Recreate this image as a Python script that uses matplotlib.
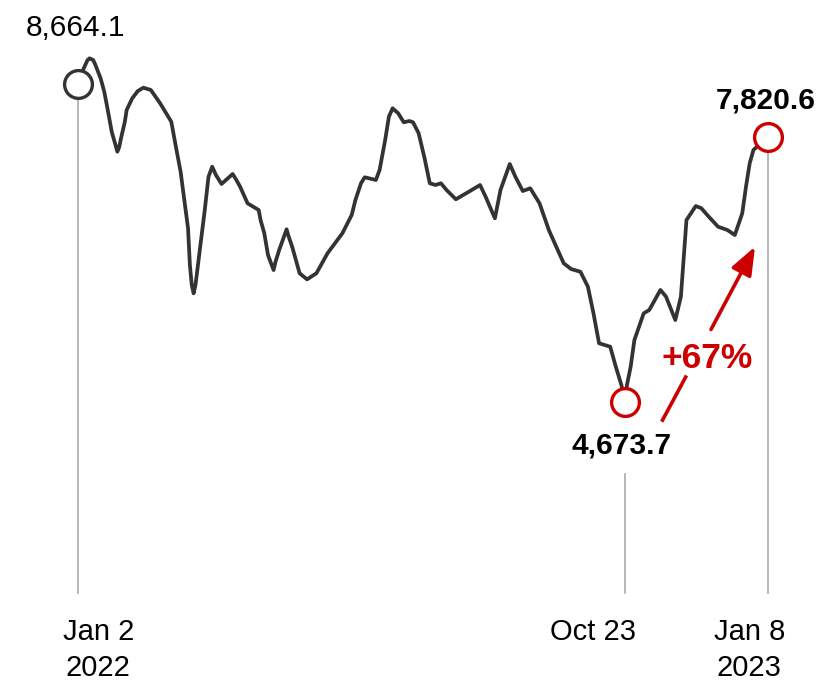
import numpy as np
import matplotlib
matplotlib.use("Agg")
import matplotlib.pyplot as plt
import matplotlib.dates as mdates

plt.rcParams['font.family'] = ['Liberation Sans', 'DejaVu Sans']

# days since Jan 2 2022, and index level
days = [0, 3, 5, 6, 8, 9, 12, 14, 16, 18, 20, 21, 22, 23, 25, 26, 29, 32, 35, 39, 44, 50, 52, 55,
        59, 60, 61, 62, 63, 64, 66, 68, 70, 72, 74, 77, 80, 83, 85, 87, 91, 97, 98, 100, 102, 105,
        106, 108, 112, 113, 115, 119, 123, 128, 134, 142, 147, 149, 152, 154, 160, 162, 165, 167, 169, 172,
        175, 178, 180, 183, 186, 189, 192, 195, 198, 203, 210, 216, 219, 224, 227, 232, 235, 239, 243, 248,
        253, 257, 261, 265, 270, 274, 277, 280, 286, 289, 292, 294, 295, 297, 299, 304, 307, 313, 316, 321,
        324, 327, 332, 335, 339, 344, 349, 353, 357, 359, 361, 363, 366, 371]
values = [8664.1, 8943, 9083, 9113, 9083, 9013, 8766, 8535, 8215, 7896, 7700, 7600, 7669, 7805, 8052, 8242, 8431, 8552, 8607, 8569, 8350, 8056, 7744, 7310,
          6548, 6096, 5865, 5770, 5865, 6037, 6401, 6785, 7239, 7381, 7263, 7137, 7207, 7277, 7193, 7100, 6874, 6785, 6654, 6485, 6216, 6037,
          6132, 6277, 6535, 6451, 6317, 5999, 5929, 5999, 6237, 6485, 6720, 6918, 7147, 7231, 7193, 7334, 7775, 8135, 8269, 8189,
          8047, 8067, 8047, 7876, 7526, 7147, 7123, 7147, 7054, 6928, 7031, 7123, 6963, 6676, 7054, 7420, 7239, 7040, 7078, 6874,
          6526, 6317, 6117, 6049, 6017, 5845, 5550, 5236, 5201, 5003, 4828, 4673.7, 4828, 5003, 5269, 5550, 5586, 5808, 5733, 5478,
          5733, 6654, 6838, 6808, 6697, 6568, 6526, 6463, 6742, 7100, 7430, 7625, 7700, 7820.6]

tick_labels = [("Jan 2", "2022"), ("Oct 23", ""), ("Jan 8", "2023")]

start = np.datetime64('2022-01-02')
dates = start + np.array(days).astype('timedelta64[D]')
xd = np.asarray(mdates.date2num(dates), dtype=float)
vals = np.array(values, dtype=float)

i_low = int(np.argmin(vals))
marks = [0, i_low, len(vals) - 1]

dark = '#333333'
red = '#cc0000'
grey = '#aaaaaa'

W, H = 823, 683
fig = plt.figure(figsize=(W / 100, H / 100), dpi=100)
ax = fig.add_axes([0, 0, 1, 1])
ax.set_yscale('log')
ax.axis('off')

# pixel scale: first date at x=78, last at x=768
k = 690 / 371
x0 = xd[0]
ax.set_xlim(x0 - 78.3 / k, x0 + (W - 78.3) / k)
s = 514.2
ax.set_ylim(vals[0] * np.exp(-(H - 84.3) / s), vals[0] * np.exp(84.3 / s))

ax.plot(xd, vals, color=dark, lw=2.7, solid_joinstyle='round',
        solid_capstyle='round', zorder=2)

# guide lines down to the date labels
xt = ax.get_xaxis_transform()
y_bot = 90 / H
for i in marks:
    if i == i_low:
        top = (H - 474) / H
    else:
        pt = ax.transData.transform(np.array([[xd[i], vals[i]]]))
        top = ax.transAxes.inverted().transform(pt)[0, 1]
    ax.plot([xd[i], xd[i]], [y_bot, top], transform=xt, color=grey, lw=1.2, zorder=1)

# circles on start, low and latest points
for i in marks:
    ec = dark if i == 0 else red
    ax.plot(xd[i], vals[i], 'o', ms=20, mfc='white', mec=ec, mew=2.4, zorder=4)

ax.annotate(f"{vals[0]:,.1f}", (xd[0], vals[0]), xytext=(-3, 48),
            textcoords='offset pixels', ha='center', va='baseline', fontsize=21.5, color='black')
ax.annotate(f"{vals[-1]:,.1f}", (xd[-1], vals[-1]), xytext=(-3, 28),
            textcoords='offset pixels', ha='center', va='baseline', fontsize=21.5,
            fontweight='bold', color='black')
ax.annotate(f"{vals[i_low]:,.1f}", (xd[i_low], vals[i_low]), xytext=(-4, -52),
            textcoords='offset pixels', ha='center', va='baseline', fontsize=21.5,
            fontweight='bold', color='black')

# rise from the low
pct = round((vals[-1] / vals[i_low] - 1) * 100)
ax.text(707 / W, 1 - 368 / H, f"+{pct}%", transform=ax.transAxes, ha='center',
        va='baseline', fontsize=25.5, fontweight='bold', color=red)
ax.plot([661.7 / W, 686.5 / W], [1 - 421.7 / H, 1 - 375.5 / H], transform=ax.transAxes,
        color=red, lw=2.6, solid_capstyle='butt')
ax.annotate('', xy=(755 / W, 1 - 246.7 / H), xytext=(711 / W, 1 - 329.5 / H),
            xycoords='axes fraction', textcoords='axes fraction',
            arrowprops=dict(arrowstyle='-|>,head_length=0.85,head_width=0.33', color=red,
                            lw=2.6, shrinkA=0, shrinkB=0, mutation_scale=20))

# date labels
offsets = [20, -32, -19]
for i, (l1, l2), dx in zip(marks, tick_labels, offsets):
    ax.annotate(l1, (xd[i], 0.0), xycoords=xt, xytext=(dx, 43), textcoords='offset pixels',
                ha='center', va='baseline', fontsize=21, color='black')
    if l2:
        ax.annotate(l2, (xd[i], 0.0), xycoords=xt, xytext=(dx, 7), textcoords='offset pixels',
                    ha='center', va='baseline', fontsize=21, color='black')

fig.savefig('out.png', dpi=100, facecolor='white')
